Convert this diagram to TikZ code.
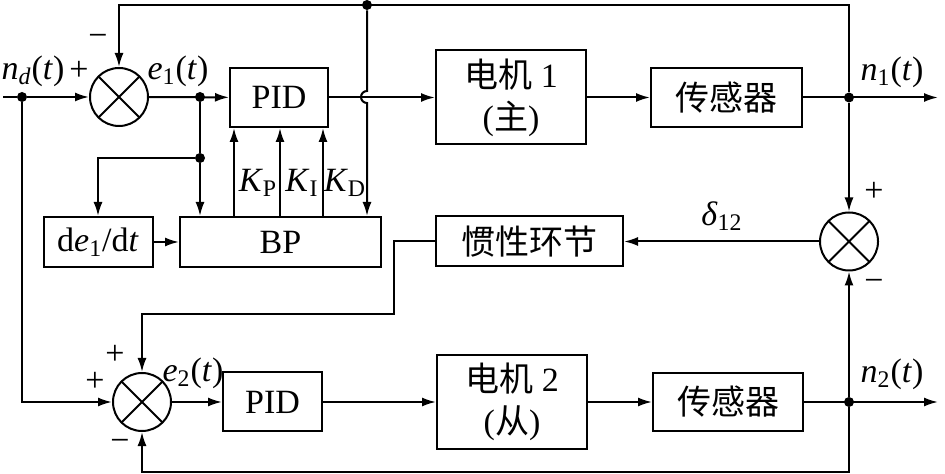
\documentclass[tikz,border=0pt]{standalone}
\usepackage{fontspec}
\setmainfont{Liberation Serif}
\newfontfamily\cjk{Noto Sans CJK SC}
\usetikzlibrary{arrows.meta}

\tikzset{
  block/.style={draw, line width=1pt, inner sep=0pt, align=center, font=\fontsize{17}{21}\selectfont},
  sumnode/.style={draw, circle, line width=1pt, minimum size=29pt, inner sep=0pt,
    path picture={\draw[line width=1pt] (path picture bounding box.north west) -- (path picture bounding box.south east)
      (path picture bounding box.north east) -- (path picture bounding box.south west);}},
  dot/.style={circle, fill, inner sep=0pt, minimum size=5pt},
  lbl/.style={font=\fontsize{17}{19}\selectfont, inner sep=0pt},
  wire/.style={line width=1pt},
  sig/.style={line width=1pt, -{Latex[length=7pt,width=4.5pt]}}
}

\begin{document}
\begin{tikzpicture}[x=0.5pt,y=-0.5pt]
\useasboundingbox (0,0) rectangle (945,474);

% upper loop (master)
\coordinate (in) at (3,97);
\node[dot] (nd) at (22,97) {};
\node[sumnode] (sum1) at (119,97) {};
\node[dot] (ea) at (200,97) {};
\node[dot] (eb) at (200,158) {};
\node[block, minimum width=49pt, minimum height=29.5pt] (pid1) at (279,97.5) {PID};
\node[block, minimum width=54.5pt, minimum height=25pt] (de) at (98,242) {d\textit{e}\textsubscript{1}/d\textit{t}};
\node[block, minimum width=100.5pt, minimum height=25pt] (bp) at (280.5,242) {BP};
\node[block, minimum width=75pt, minimum height=47pt] (m1) at (511,97.5) {{\cjk 电机} 1\\({\cjk 主})};
\node[block, minimum width=75.5pt, minimum height=29.5pt] (s1) at (726.5,97.5) {\cjk 传感器};
\node[dot] (n1) at (849,97.5) {};
\coordinate (out1) at (938,97.5);
\node[dot] (tp) at (367,5) {};

% cross coupling
\node[sumnode] (sum3) at (849,241.5) {};
\node[block, minimum width=93.5pt, minimum height=25pt] (inr) at (529.5,241.5) {\cjk 惯性环节};

% lower loop (slave)
\node[sumnode] (sum2) at (142,402) {};
\node[block, minimum width=49.5pt, minimum height=29.5pt] (pid2) at (272.5,402) {PID};
\node[block, minimum width=75pt, minimum height=47pt] (m2) at (512,402) {{\cjk 电机} 2\\({\cjk 从})};
\node[block, minimum width=75pt, minimum height=29pt] (s2) at (728,402) {\cjk 传感器};
\node[dot] (n2) at (849,402) {};
\coordinate (out2) at (938,402);

% connectors
\draw[wire] (in) -- (nd);
\draw[sig] (nd) -- (sum1);
\draw[sig] (sum1) -- (pid1);
\draw[wire] (ea) -- (eb);
\draw[sig] (eb) -- (eb |- bp.north);
\draw[sig] (eb) -- (eb -| de.north) -- (de.north);
\draw[sig] (de) -- (bp);
\foreach \x in {234,280,323}
  \draw[sig] (\x,217 |- bp.north) -- (\x,217 |- pid1.south);
\draw[sig] (pid1) -- (m1);
\draw[sig] (m1) -- (s1);
\draw[sig] (s1) -- (out1);
\draw[sig] (n1) -- (n1 |- 0,5) -- (sum1 |- 0,5) -- (sum1);
\draw[sig] (tp) -- (367,91) arc[start angle=90, end angle=270, radius=3pt] -- (tp |- bp.north);
\draw[sig] (n1) -- (sum3);
\draw[sig] (sum3) -- (inr);
\draw[sig] (inr) -- (394,241.5) -- (394,314) -- (sum2 |- 0,314) -- (sum2);
\draw[sig] (nd) -- (nd |- sum2) -- (sum2);
\draw[sig] (sum2) -- (pid2);
\draw[sig] (pid2) -- (m2);
\draw[sig] (m2) -- (s2);
\draw[sig] (s2) -- (out2);
\draw[sig] (n2) -- (sum3);
\draw[sig] (n2) -- (n2 |- 0,472) -- (sum2 |- 0,472) -- (sum2);

% labels
\node[lbl] at (33,71) {\textit{n}\textsubscript{\textit{d}}(\textit{t})};
\node[lbl] at (79,71) {+};
\node[lbl] at (98,40) {−};
\node[lbl] at (178,71) {\textit{e}\textsubscript{1}(\textit{t})};
\node[lbl] at (258,183) {\textit{K}\textsubscript{P}};
\node[lbl] at (302,183) {\textit{K}\textsubscript{I}};
\node[lbl] at (345,183) {\textit{K}\textsubscript{D}};
\node[lbl] at (892,72) {\textit{n}\textsubscript{1}(\textit{t})};
\node[lbl] at (874,192) {+};
\node[lbl] at (874,285) {−};
\node[lbl] at (722,216) {\textit{δ}\textsubscript{12}};
\node[lbl] at (115,355) {+};
\node[lbl] at (95,382) {+};
\node[lbl] at (120,445) {−};
\node[lbl] at (193,373) {\textit{e}\textsubscript{2}(\textit{t})};
\node[lbl] at (892,374) {\textit{n}\textsubscript{2}(\textit{t})};
\end{tikzpicture}
\end{document}
